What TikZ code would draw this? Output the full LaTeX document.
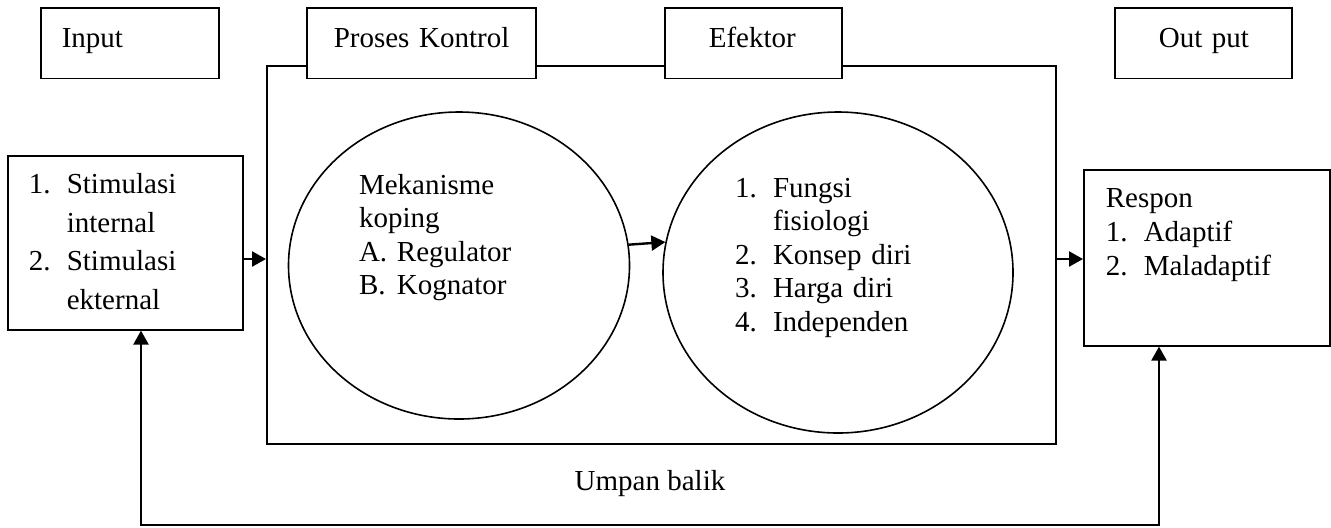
\documentclass[tikz,border=0pt]{standalone}
\usepackage{fontspec}
\setmainfont{Liberation Serif}
\usetikzlibrary{shapes.geometric, arrows.meta}
\newcommand{\nomor}[1]{\makebox[19pt][l]{#1}}
\tikzset{
    huruf/.style={font=\fontsize{14.5}{#1}\selectfont},
    huruf/.default=17,
    kotak/.style={rectangle, draw, fill=white, line width=0.8pt,
        anchor=north west, inner ysep=0pt, align=left},
    judul/.style={kotak, text height=19.7pt, text depth=15.5pt, huruf},
    lingkaran/.style={ellipse, draw, line width=0.8pt, inner sep=0pt,
        align=left, text height=12pt},
    kerangka/.style={rectangle, draw, line width=0.8pt, anchor=north west,
        inner sep=0pt},
    panah/.style={-{Triangle[length=7pt, width=7.5pt]}, line width=1.2pt},
    balik/.style={{Triangle[length=7pt, width=7.5pt]}-{Triangle[length=7pt, width=7.5pt]},
        line width=1.2pt}}
\begin{document}
\begin{tikzpicture}[x=0.5pt, y=-0.5pt]
    \useasboundingbox (0,0) rectangle (1331,527);
    % bingkai proses kontrol dan efektor
    \node[kerangka, minimum width=394.5pt, minimum height=189pt] (kerangka) at (266,65) {};
    % judul
    \node[judul, text width=68pt, inner xsep=10.5pt] (input) at (40,7.3) {Input};
    \node[judul, text width=87.5pt, inner xsep=13.5pt] (proses) at (306,7.3) {\mbox{Proses Kontrol}};
    \node[judul, text width=44.5pt, inner xsep=22pt] (efektor) at (664,7.3) {\mbox{Efektor}};
    \node[judul, text width=44.5pt, inner xsep=22pt] (output) at (1114,7.3) {\mbox{Out put}};
    % isi
    \node[kotak, huruf=19.2, text width=96.5pt, inner xsep=10.5pt,
        text height=19pt, text depth=68pt] (stimulasi) at (7,155)
        {\nomor{1.}Stimulasi\\ \nomor{}internal\\ \nomor{2.}Stimulasi\\ \nomor{}ekternal};
    \node[lingkaran, huruf=16.75, minimum width=170.5pt, minimum height=153.5pt,
        text width=100pt, text depth=83.5pt] (mekanisme) at (459,265.5)
        {Mekanisme\\ koping\\ \nomor{A.}Regulator\\ \nomor{B.}Kognator};
    \node[lingkaran, huruf=16.75, minimum width=175pt, minimum height=160.5pt,
        text width=103pt, text depth=87.5pt] (fungsi) at (838,272.5)
        {\nomor{1.}Fungsi\\ \nomor{}fisiologi\\ \nomor{2.}Konsep diri\\
         \nomor{3.}Harga diri\\ \nomor{4.}Independen};
    \node[kotak, huruf=17, text width=101pt, inner xsep=11pt,
        text height=19pt, text depth=69pt] (respon) at (1083,169)
        {Respon\\ \nomor{1.}Adaptif\\ \nomor{2.}Maladaptif};
    % panah
    \coordinate (jalur) at (0,259);
    \coordinate (balik kiri) at (141,525);
    \coordinate (balik kanan) at (1159,525);
    \draw[panah] (stimulasi.east |- jalur) -- (kerangka.west |- jalur);
    \draw[panah] (mekanisme.7) -- (fungsi.170);
    \draw[panah] (kerangka.east |- jalur) -- (respon.west |- jalur);
    \draw[balik] (stimulasi.south -| balik kiri) -- (balik kiri) -- (balik kanan)
        node[midway, yshift=20.7pt, huruf] (umpanbalik) {Umpan balik}
        -- (respon.south -| balik kanan);
\end{tikzpicture}
\end{document}
